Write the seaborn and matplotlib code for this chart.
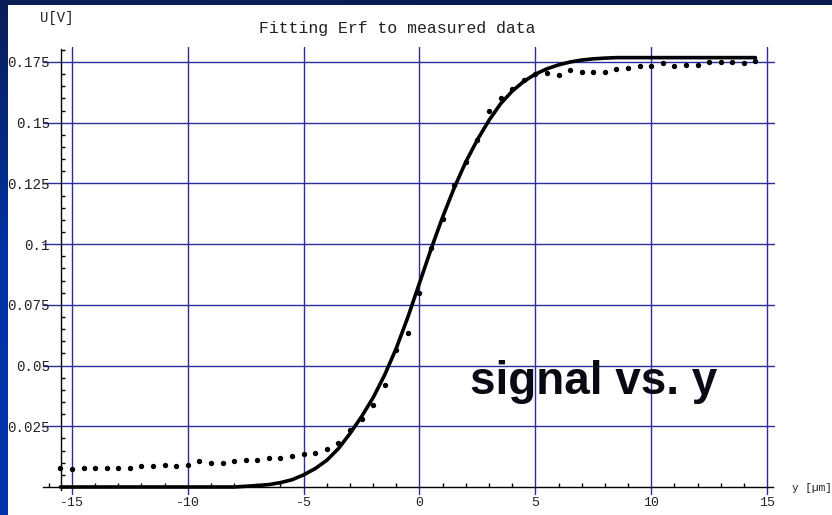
import numpy as np
import pandas as pd
import matplotlib
matplotlib.use("Agg")
import matplotlib.pyplot as plt
import seaborn as sns
from matplotlib.ticker import FixedLocator, MultipleLocator
from matplotlib.colors import LinearSegmentedColormap

# ---------------- data ----------------
pos_um = [-15.5, -15.0, -14.5, -14.0, -13.5, -13.0, -12.5, -12.0, -11.5, -11.0,
          -10.5, -10.0, -9.5, -9.0, -8.5, -8.0, -7.5, -7.0, -6.5, -6.0,
          -5.5, -5.0, -4.5, -4.0, -3.5, -3.0, -2.5, -2.0, -1.5, -1.0,
          -0.5, 0.0, 0.5, 1.0, 1.5, 2.0, 2.5, 3.0, 3.5, 4.0,
          4.5, 5.0, 5.5, 6.0, 6.5, 7.0, 7.5, 8.0, 8.5, 9.0,
          9.5, 10.0, 10.5, 11.0, 11.5, 12.0, 12.5, 13.0, 13.5, 14.0, 14.5]

measured_V = [0.0079, 0.0074, 0.0078, 0.0079, 0.0079, 0.0079, 0.0078, 0.0086, 0.0086, 0.0092,
              0.0085, 0.0092, 0.0106, 0.0099, 0.0099, 0.0106, 0.0110, 0.0110, 0.0120, 0.0120,
              0.0127, 0.0134, 0.0141, 0.0158, 0.0182, 0.0234, 0.0278, 0.0337, 0.0420, 0.0563,
              0.0635, 0.0800, 0.0985, 0.1105, 0.1242, 0.1340, 0.1430, 0.1550, 0.1600, 0.1640,
              0.1674, 0.1700, 0.1704, 0.1697, 0.1715, 0.1708, 0.1708, 0.1708, 0.1720, 0.1727,
              0.1734, 0.1734, 0.1744, 0.1732, 0.1738, 0.1738, 0.1750, 0.1750, 0.1750, 0.1747, 0.1755]

fit_V = [0.0, 0.0, 0.0, 0.0, 0.0, 0.0, 0.0, 0.0, 0.0, 0.0,
         0.0, 0.0, 0.0, 0.0, 0.0, 0.0, 0.0003, 0.0006, 0.0010, 0.0018,
         0.0030, 0.0050, 0.0076, 0.0110, 0.0158, 0.0220, 0.0290, 0.0368, 0.0462, 0.0572,
         0.0700, 0.0840, 0.0980, 0.1112, 0.1232, 0.1339, 0.1430, 0.1510, 0.1578, 0.1630,
         0.1670, 0.1700, 0.1722, 0.1738, 0.1750, 0.1758, 0.1763, 0.1766, 0.1768, 0.1768,
         0.1768, 0.1768, 0.1768, 0.1768, 0.1768, 0.1768, 0.1768, 0.1768, 0.1768, 0.1768, 0.1768]

x_major = [-15, -10, -5, 0, 5, 10, 15]
x_labels = ["-15", "-10", "-5", "0", "5", "10", "15"]
y_major = [0.025, 0.05, 0.075, 0.1, 0.125, 0.15, 0.175]
y_labels = ["0.025", "0.05", "0.075", "0.1", "0.125", "0.15", "0.175"]
y_minor = [0.005 * k for k in range(0, 37)]

title = "Fitting Erf to measured data"
ylab = "U[V]"
xlab = "y [\u00b5m]"
overlay = "signal vs. y"

meas = pd.DataFrame({"y": pos_um, "U": measured_V})
fit = pd.DataFrame({"y": pos_um, "U": fit_V})

# ---------------- figure ----------------
sns.set_style("white")
plt.rcParams["font.family"] = ["Liberation Mono", "DejaVu Sans Mono"]

W, H = 832, 515
fig = plt.figure(figsize=(W / 100, H / 100), dpi=100, facecolor="white")

# blue slide frame (left + top strips)
grad = np.linspace(0, 1, 256).reshape(-1, 1)
cm_left = LinearSegmentedColormap.from_list("l", ["#0a1e58", "#0033a6", "#0036aa"])
axl = fig.add_axes([0, 0, 8 / W, 1])
axl.imshow(grad, aspect="auto", cmap=cm_left, extent=[0, 1, 1, 0])
axl.axis("off")
cm_top = LinearSegmentedColormap.from_list("t", ["#0a1e58", "#081a4c"])
axt = fig.add_axes([0, 1 - 5 / H, 1, 5 / H])
axt.imshow(grad.T, aspect="auto", cmap=cm_top)
axt.axis("off")

# plot axes: pixel box 43..775 (x), 47..495 (y)
ax = fig.add_axes([43 / W, (H - 495) / H, 732 / W, 448 / H])
ax.set_facecolor("white")
x_per = 23.17
x0_pix = 419.5
ax.set_xlim((43 - x0_pix) / x_per, (775 - x0_pix) / x_per)
y_per = 2428.6
ax.set_ylim((487 - 495) / y_per, (487 - 47) / y_per)

sns.lineplot(data=fit, x="y", y="U", ax=ax, color="black", linewidth=2.6,
             zorder=4, estimator=None, sort=False)
sns.scatterplot(data=meas, x="y", y="U", ax=ax, color="black", s=15,
                linewidth=0, zorder=5)

ax.set_xlabel("")
ax.set_ylabel("")

# grid
ax.xaxis.set_major_locator(FixedLocator(x_major))
ax.yaxis.set_major_locator(FixedLocator(y_major))
ax.xaxis.set_minor_locator(MultipleLocator(1))
ax.yaxis.set_minor_locator(FixedLocator(y_minor))
ax.set_xticklabels(x_labels)
ax.set_yticklabels(y_labels)
ax.grid(True, which="major", color="#2c2c9e", linewidth=1.0, zorder=1)
ax.set_axisbelow(True)

# axes lines (Mathematica style)
for s in ["top", "right"]:
    ax.spines[s].set_visible(False)
ax.spines["left"].set_position(("data", (61 - x0_pix) / x_per))
ax.spines["bottom"].set_position(("data", 0.0))
ax.spines["left"].set_bounds(-0.0012, 0.1805)
ax.spines["bottom"].set_bounds((43 - x0_pix) / x_per, (773 - x0_pix) / x_per)
for s in ["left", "bottom"]:
    ax.spines[s].set_color("black")
    ax.spines[s].set_linewidth(1.0)
    ax.spines[s].set_zorder(3)

ax.tick_params(axis="x", which="major", length=0, pad=7, labelsize=9.5,
               labelcolor="#222222")
ax.tick_params(axis="y", which="major", length=0, pad=8, labelsize=10.2,
               labelcolor="#222222")
ax.tick_params(axis="both", which="minor", direction="in", length=3,
               width=1.0, color="black")
ax.tick_params(axis="x", which="minor", bottom=True)
ax.tick_params(axis="y", which="minor", left=True)

# texts
fig.text(397 / W, 1 - 28 / H, title, ha="center", va="center",
         fontsize=11.9, color="#222222")
fig.text(40 / W, 1 - 18 / H, ylab, ha="left", va="center",
         fontsize=10, color="#222222")
fig.text(792 / W, 1 - 488 / H, xlab, ha="left", va="center",
         fontsize=8, color="#222222")
fig.text(470 / W, 1 - 394 / H, overlay, ha="left", va="baseline",
         fontsize=33, fontweight="bold", color="#0a0a14",
         family=["Liberation Sans", "DejaVu Sans"])

fig.savefig("out.png", dpi=100, facecolor="white")
